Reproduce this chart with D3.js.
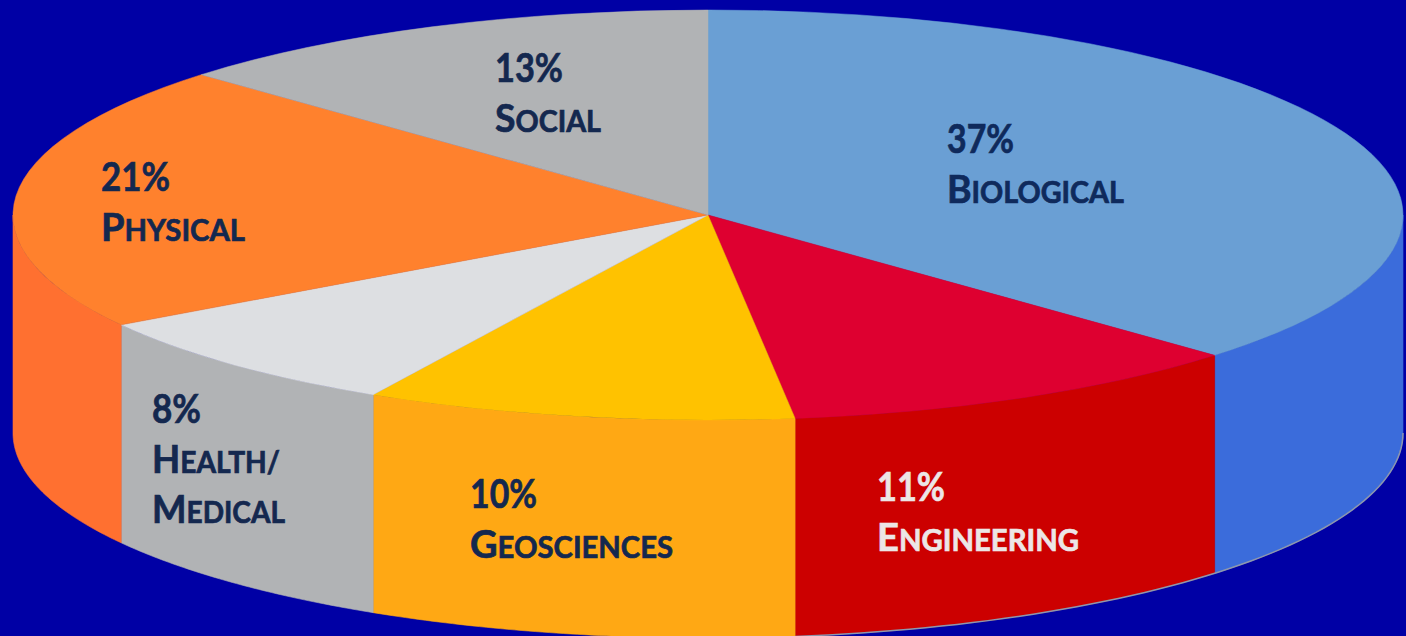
<!DOCTYPE html>
<html><head><meta charset="utf-8">
<script src="https://cdn.jsdelivr.net/npm/d3@7"></script>
<style>html,body{margin:0;padding:0;background:#0000a5;overflow:hidden}svg{display:block}</style>
</head><body><svg id="c" width="1406" height="636"></svg>
<script>
const categories=["Biological","Engineering","Geosciences","Health/Medical","Physical","Social"];
const shares=[37,11,10,8,21,13];
const topColors=["#6a9fd4","#de0030","#ffc200","#dddfe2","#ff812d","#b1b3b5"];
const sideColors=["#3b6cdb","#cc0000","#ffa814","#b1b3b5","#ff7030","#b1b3b5"];
const labelLines=[["37%","Biological"],["11%","Engineering"],["10%","Geosciences"],["8%","Health/","Medical"],["21%","Physical"],["13%","Social"]];
const labelColors=["#0f2a5c","#ece6e6","#14284f","#14284f","#14284f","#14284f"];
const labelPos=[[947,153,[67,177]],[877,501,[68,202]],[470,508,[67,203]],[152,423,[49,128,133]],[101,191,[69,144]],[495,82,[68,106]]];

const W=1406,H=636,cx=708,cy=215,rx=695,ry=205,depth=218;
const svg=d3.select("#c");
svg.append("rect").attr("width",W).attr("height",H).attr("fill","#0000a5");
const arcs=d3.pie().sort(null).value(d=>d)(shares);
const px=a=>cx+rx*Math.sin(a), py=a=>cy-ry*Math.cos(a);
const line=d3.line();

// side walls: visible between 90deg and 270deg
const gs=svg.append("g");
arcs.forEach((s,i)=>{
  const a0=Math.max(s.startAngle,Math.PI/2),a1=Math.min(s.endAngle,Math.PI*1.5);
  if(a1<=a0)return;
  const n=60,angs=d3.range(n+1).map(k=>a0+(a1-a0)*k/n);
  const pts=angs.map(a=>[px(a),py(a)]).concat(angs.slice().reverse().map(a=>[px(a),py(a)+depth]));
  gs.append("path").attr("d",line(pts)+"Z").attr("fill",sideColors[i]).attr("stroke",sideColors[i]).attr("stroke-width",0.6);
});
// outline glint along the lower right rim
const rim=d3.range(0,61).map(k=>{const a=Math.PI/2+(arcs[1].endAngle-Math.PI/2)*k/60;return [px(a),py(a)+depth];});
gs.append("path").attr("d",line(rim)).attr("fill","none").attr("stroke","#8d97ae").attr("stroke-width",1.5);

// top face: d3.arc squashed into an ellipse
const arc=d3.arc().innerRadius(0).outerRadius(rx);
const gt=svg.append("g").attr("transform",`translate(${cx},${cy}) scale(1,${ry/rx})`);
gt.selectAll("path").data(arcs).join("path")
  .attr("d",arc).attr("fill",(d,i)=>topColors[i]).attr("stroke",(d,i)=>topColors[i]).attr("stroke-width",0.8);

// labels
const F="Lato, 'Open Sans', sans-serif";
labelLines.forEach((lines,i)=>{
  const [x,y,widths]=labelPos[i];
  lines.forEach((t,j)=>{
    const tx=svg.append("text").attr("x",x).attr("y",y+j*50)
      .attr("font-family",F).attr("font-weight",700).attr("fill",labelColors[i])
      .attr("stroke",labelColors[i]).attr("stroke-width",0.7)
      .attr("textLength",widths[j]).attr("lengthAdjust","spacingAndGlyphs");
    if(j===0){tx.attr("font-size",41).text(t);}
    else{
      tx.append("tspan").attr("font-size",39).text(t[0]);
      tx.append("tspan").attr("font-size",30).text(t.slice(1).toUpperCase());
    }
  });
});
</script></body></html>
